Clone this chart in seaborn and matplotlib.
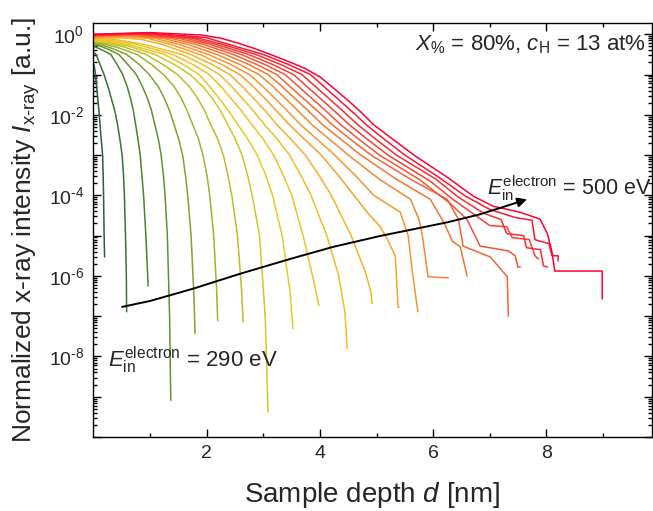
import numpy as np
import pandas as pd
import matplotlib
matplotlib.use("Agg")
import matplotlib.pyplot as plt
import seaborn as sns
from matplotlib.colors import LinearSegmentedColormap
from matplotlib.ticker import FixedLocator, FuncFormatter, NullFormatter

# ---------------- data (depth in nm, log10 of intensity) ----------------
energies = [290, 300, 310, 320, 330, 340, 350, 360, 370, 380, 390,
            400, 410, 420, 430, 440, 450, 460, 470, 480, 490, 500]

d_290 = [0, 0.015, 0.03, 0.05, 0.07, 0.09, 0.11, 0.13, 0.155, 0.165, 0.172, 0.182, 0.19]
logI_290 = [-0.75, -0.85, -1.0, -1.3, -1.6, -1.9, -2.25, -2.6, -3, -3.5, -4, -5, -5.53]
d_300 = [0, 0.04, 0.11, 0.18, 0.25, 0.31, 0.37, 0.42, 0.46, 0.50, 0.525, 0.54, 0.56, 0.575, 0.58]
logI_300 = [-0.45, -0.5, -0.75, -1.0, -1.3, -1.6, -1.9, -2.25, -2.6, -3, -3.5, -4, -5, -6, -6.89]
d_310 = [0, 0.1, 0.2, 0.30, 0.41, 0.51, 0.59, 0.65, 0.70, 0.74, 0.78, 0.82, 0.85, 0.88, 0.92, 0.95, 0.96]
logI_310 = [-0.30, -0.36, -0.43, -0.5, -0.75, -1.0, -1.3, -1.6, -1.9, -2.25, -2.6, -3, -3.5, -4, -5, -5.9, -6.25]
d_320 = [0, 0.12, 0.25, 0.44, 0.60, 0.75, 0.86, 0.95, 1.02, 1.08, 1.14, 1.19, 1.23, 1.26, 1.30, 1.34, 1.36]
logI_320 = [-0.26, -0.3, -0.37, -0.5, -0.75, -1.0, -1.3, -1.6, -1.9, -2.25, -2.6, -3, -3.5, -4, -5, -7, -9.09]
d_330 = [0, 0.15, 0.32, 0.58, 0.80, 0.98, 1.14, 1.25, 1.34, 1.42, 1.50, 1.57, 1.62, 1.66, 1.72, 1.77, 1.79]
logI_330 = [-0.23, -0.27, -0.35, -0.5, -0.75, -1.0, -1.3, -1.6, -1.9, -2.25, -2.6, -3, -3.5, -4, -5, -6.5, -7.43]
d_340 = [0, 0.2, 0.42, 0.76, 1.02, 1.23, 1.42, 1.55, 1.65, 1.75, 1.85, 1.93, 2.0, 2.05, 2.12, 2.17, 2.19]
logI_340 = [-0.21, -0.25, -0.33, -0.5, -0.75, -1.0, -1.3, -1.6, -1.9, -2.25, -2.6, -3, -3.5, -4, -5, -6.3, -7.11]
d_350 = [0, 0.25, 0.52, 0.92, 1.22, 1.48, 1.69, 1.84, 1.96, 2.07, 2.19, 2.29, 2.37, 2.44, 2.54, 2.61, 2.64]
logI_350 = [-0.19, -0.23, -0.31, -0.5, -0.75, -1.0, -1.3, -1.6, -1.9, -2.25, -2.6, -3, -3.5, -4, -5, -6.3, -7.14]
d_360 = [0, 0.3, 0.6, 1.08, 1.42, 1.70, 1.93, 2.10, 2.24, 2.37, 2.50, 2.62, 2.72, 2.80, 2.93, 3.03, 3.08]
logI_360 = [-0.17, -0.21, -0.29, -0.5, -0.75, -1.0, -1.3, -1.6, -1.9, -2.25, -2.6, -3, -3.5, -4, -5, -7, -9.38]
d_370 = [0, 0.33, 0.65, 1.24, 1.58, 1.86, 2.05, 2.22, 2.38, 2.55, 2.72, 2.89, 3.04, 3.16, 3.33, 3.47, 3.52]
logI_370 = [-0.15, -0.19, -0.27, -0.5, -0.75, -1.0, -1.3, -1.6, -1.9, -2.25, -2.6, -3, -3.5, -4, -5, -6.4, -7.31]
d_380 = [0, 0.38, 0.75, 1.39, 1.75, 2.04, 2.25, 2.43, 2.61, 2.80, 2.99, 3.18, 3.35, 3.50, 3.70, 3.90, 3.98]
logI_380 = [-0.13, -0.17, -0.25, -0.5, -0.75, -1.0, -1.3, -1.6, -1.9, -2.25, -2.6, -3, -3.5, -4, -5, -6.2, -6.74]
d_390 = [0, 0.42, 0.88, 1.55, 1.92, 2.22, 2.44, 2.63, 2.82, 3.02, 3.24, 3.46, 3.66, 3.84, 4.12, 4.33, 4.44, 4.48]
logI_390 = [-0.11, -0.14, -0.25, -0.5, -0.75, -1.0, -1.3, -1.6, -1.9, -2.25, -2.6, -3, -3.5, -4, -5, -6, -6.9, -7.8]
d_400 = [0, 0.5, 0.85, 1.20, 1.71, 2.09, 2.40, 2.63, 2.83, 3.03, 3.24, 3.48, 3.74, 3.98, 4.20, 4.55, 4.80, 4.90, 4.92]
logI_400 = [-0.10, -0.09, -0.13, -0.25, -0.5, -0.75, -1.0, -1.3, -1.6, -1.9, -2.25, -2.6, -3, -3.5, -4, -5, -5.9, -6.4, -6.69]
d_410 = [0, 0.55, 0.95, 1.35, 1.87, 2.26, 2.58, 2.82, 3.03, 3.23, 3.46, 3.72, 4.02, 4.32, 4.60, 4.85, 5.06, 5.19, 5.33, 5.38, 5.40]
logI_410 = [-0.08, -0.06, -0.1, -0.25, -0.5, -0.75, -1.0, -1.3, -1.6, -1.9, -2.25, -2.6, -3, -3.5, -4, -4.45, -4.77, -5.09, -5.51, -6.77, -6.79]
d_420 = [0, 0.6, 1.08, 1.50, 2.02, 2.42, 2.75, 2.99, 3.21, 3.42, 3.66, 3.94, 4.26, 4.62, 4.95, 5.42, 5.56, 5.63, 5.73]
logI_420 = [-0.07, -0.04, -0.1, -0.25, -0.5, -0.75, -1.0, -1.3, -1.6, -1.9, -2.25, -2.6, -3, -3.5, -4, -4.42, -5.01, -5.88, -6.89]
d_430 = [0, 0.65, 1.22, 1.65, 2.17, 2.58, 2.92, 3.17, 3.39, 3.61, 3.86, 4.16, 4.50, 5.05, 5.60, 5.75, 5.81, 5.91, 6.27]
logI_430 = [-0.06, -0.03, -0.1, -0.25, -0.5, -0.75, -1.0, -1.3, -1.6, -1.9, -2.25, -2.6, -3, -3.6, -4.1, -4.6, -5.01, -6.02, -6.05]
d_440 = [0, 0.7, 1.36, 1.80, 2.32, 2.74, 3.08, 3.33, 3.56, 3.79, 4.05, 4.36, 4.72, 5.35, 5.95, 6.20, 6.34, 6.48, 6.55, 6.60]
logI_440 = [-0.05, -0.02, -0.1, -0.25, -0.5, -0.75, -1.0, -1.3, -1.6, -1.9, -2.25, -2.6, -3, -3.6, -4.1, -4.7, -5.14, -5.28, -5.7, -6.0]
d_450 = [0, 0.75, 1.50, 1.93, 2.46, 2.88, 3.23, 3.47, 3.71, 3.95, 4.22, 4.53, 4.90, 5.60, 6.25, 6.45, 6.53, 7.01, 7.31, 7.33]
logI_450 = [-0.04, -0.01, -0.1, -0.25, -0.5, -0.75, -1.0, -1.3, -1.6, -1.9, -2.25, -2.6, -3, -3.6, -4.1, -4.6, -5.26, -5.53, -6.02, -7.0]
d_460 = [0, 0.8, 1.62, 2.05, 2.60, 3.02, 3.38, 3.62, 3.86, 4.10, 4.37, 4.68, 5.05, 5.75, 6.30, 6.60, 6.83, 7.33, 7.45, 7.50, 7.54]
logI_460 = [-0.03, 0.0, -0.1, -0.25, -0.5, -0.75, -1.0, -1.3, -1.6, -1.9, -2.25, -2.6, -3, -3.6, -4.2, -4.6, -5.26, -5.38, -5.5, -5.78, -5.78]
d_470 = [0, 0.85, 1.74, 2.16, 2.73, 3.16, 3.53, 3.77, 4.01, 4.25, 4.52, 4.83, 5.20, 5.95, 6.35, 6.75, 7.0, 7.30, 7.40, 7.70, 7.80, 7.86]
logI_470 = [-0.02, 0.01, -0.1, -0.25, -0.5, -0.75, -1.0, -1.3, -1.6, -1.9, -2.25, -2.6, -3, -3.65, -4.1, -4.5, -4.75, -4.78, -5.05, -5.1, -5.5, -5.58]
d_480 = [0, 0.9, 1.86, 2.27, 2.86, 3.30, 3.68, 3.92, 4.16, 4.40, 4.67, 4.98, 5.35, 6.05, 6.45, 6.9, 7.20, 7.30, 7.60, 7.65, 7.90, 7.95, 8.02]
logI_480 = [-0.02, 0.02, -0.1, -0.25, -0.5, -0.75, -1.0, -1.3, -1.6, -1.9, -2.25, -2.6, -3, -3.6, -4.05, -4.45, -4.6, -4.95, -5.0, -5.3, -5.35, -5.75, -5.78]
d_490 = [0, 0.95, 1.98, 2.38, 2.99, 3.44, 3.83, 4.07, 4.31, 4.55, 4.82, 5.13, 5.50, 6.10, 6.55, 7.0, 7.45, 7.75, 7.80, 8.05, 8.10, 8.21, 8.21]
logI_490 = [-0.01, 0.03, -0.08, -0.25, -0.5, -0.75, -1.0, -1.3, -1.6, -1.9, -2.25, -2.6, -3, -3.55, -4.0, -4.35, -4.55, -4.62, -5.1, -5.2, -5.5, -5.5, -5.63]
d_500 = [0, 1.0, 1.9, 2.25, 2.55, 2.83, 3.12, 3.43, 3.72, 4.0, 4.25, 4.5, 4.72, 4.95, 5.30, 5.68, 6.25, 6.71, 7.06, 7.54, 7.89, 8.02, 8.10, 8.15, 8.99, 8.99]
logI_500 = [0.0, 0.04, -0.02, -0.1, -0.22, -0.35, -0.5, -0.67, -0.84, -1.06, -1.35, -1.65, -1.93, -2.25, -2.62, -3.02, -3.55, -4.02, -4.27, -4.42, -4.59, -4.95, -5.4, -5.88, -5.88, -6.57]

arrow_d = [0.5, 1.0, 1.75, 2.58, 3.47, 4.23, 5.06, 6.25, 6.83, 7.66]
arrow_logI = [-6.77, -6.62, -6.32, -5.95, -5.58, -5.28, -5.01, -4.67, -4.47, -4.10]

x_ticks = [2, 4, 6, 8]

# ---------------- assemble long-form table ----------------
curve_d = [d_290, d_300, d_310, d_320, d_330, d_340, d_350, d_360, d_370, d_380, d_390,
           d_400, d_410, d_420, d_430, d_440, d_450, d_460, d_470, d_480, d_490, d_500]
curve_l = [logI_290, logI_300, logI_310, logI_320, logI_330, logI_340, logI_350, logI_360,
           logI_370, logI_380, logI_390, logI_400, logI_410, logI_420, logI_430, logI_440,
           logI_450, logI_460, logI_470, logI_480, logI_490, logI_500]
rows = []
for e, dd, ll in zip(energies, curve_d, curve_l):
    for a, b in zip(dd, ll):
        rows.append({"energy": e, "depth": a, "intensity": 10.0 ** b})
df = pd.DataFrame(rows)

# ---------------- style ----------------
sns.set_theme(style="ticks")
plt.rcParams["font.family"] = ["Liberation Sans", "DejaVu Sans"]
plt.rcParams["mathtext.fontset"] = "custom"
plt.rcParams["mathtext.rm"] = "Liberation Sans"
plt.rcParams["mathtext.it"] = "Liberation Sans:italic"
plt.rcParams["mathtext.bf"] = "Liberation Sans:bold"

cmap = LinearSegmentedColormap.from_list(
    "gyr", ["#2b5e3b", "#5a8a2e", "#a9b82e", "#e4cb28", "#f6b828",
            "#f69230", "#f26a34", "#f53a32", "#ff0033"])
palette = {e: cmap(i / (len(energies) - 1)) for i, e in enumerate(energies)}

fig = plt.figure(figsize=(6.53, 5.11), dpi=100)
ax = fig.add_axes([92.7 / 653, 1 - 437 / 511, (652 - 92.7) / 653, (437 - 23) / 511])

sns.lineplot(data=df, x="depth", y="intensity", hue="energy", palette=palette,
             estimator=None, sort=False, legend=False, linewidth=1.1, ax=ax)

ax.set_yscale("log")
ax.set_xlim(-0.02, 9.87)
ax.set_ylim(1e-10, 1.9)

# arrow
arrow_I = [10.0 ** v for v in arrow_logI]
ax.plot(arrow_d[:-1], arrow_I[:-1], color="black", lw=1.4)
ax.annotate("", xy=(arrow_d[-1], arrow_I[-1]), xytext=(arrow_d[-2], arrow_I[-2]),
            arrowprops=dict(arrowstyle="-|>", color="black", lw=1.4,
                            mutation_scale=14, shrinkA=0, shrinkB=0))

# ticks
ax.xaxis.set_major_locator(FixedLocator(x_ticks))
ax.xaxis.set_minor_locator(FixedLocator([1, 3, 5, 7, 9]))
ax.yaxis.set_major_locator(FixedLocator([10.0 ** k for k in range(-10, 1)]))
ax.yaxis.set_minor_locator(FixedLocator([m * 10.0 ** k for k in range(-10, 1) for m in range(2, 10)]))


def yfmt(v, pos):
    k = int(round(np.log10(v)))
    if k % 2 == 0 and k > -10:
        return r"$10^{\text{%d}}$" % k
    return ""


ax.yaxis.set_major_formatter(FuncFormatter(yfmt))
ax.yaxis.set_minor_formatter(NullFormatter())
ax.tick_params(which="both", direction="in", top=True, right=True, labelsize=14,
               color="black", width=1.0)
ax.tick_params(which="major", length=6, pad=6)
ax.tick_params(which="minor", length=3)
for s in ax.spines.values():
    s.set_linewidth(1.0)
    s.set_color("black")

ax.set_xlabel(r"Sample depth $d$ [nm]", fontsize=20, labelpad=13)
ax.set_ylabel(r"Normalized x-ray intensity $I_{\text{x-ray}}$ [a.u.]", fontsize=19, labelpad=5)

ax.text(0.988, 0.975, r"$X_{\%}$ = 80%, $c_{\mathrm{H}}$ = 13 at%", transform=ax.transAxes,
        ha="right", va="top", fontsize=16)
ax.text(6.96, 1e-4, r"$E_{\mathrm{in}}^{\mathrm{electron}}$ = 500 eV", ha="left",
        va="baseline", fontsize=15.5)
ax.text(0.25, 10 ** -8.27, r"$E_{\mathrm{in}}^{\mathrm{electron}}$ = 290 eV", ha="left",
        va="baseline", fontsize=16)

fig.savefig("out.png", dpi=100)
